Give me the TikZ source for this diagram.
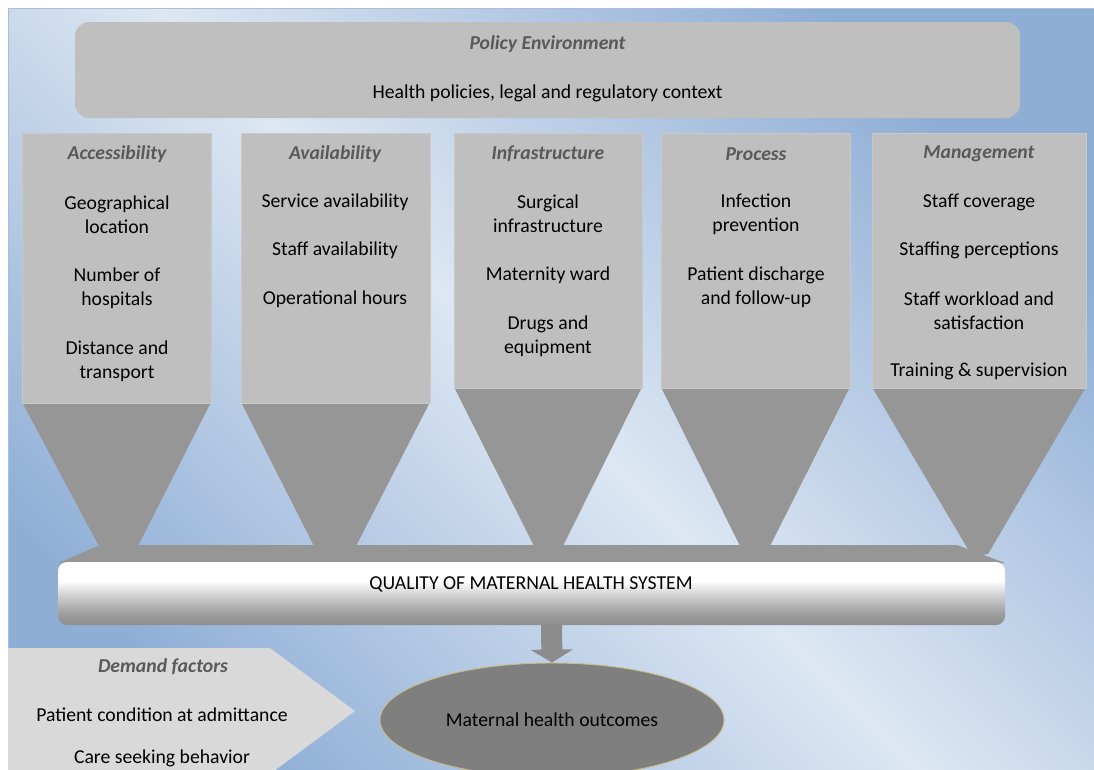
\documentclass[tikz,border=0pt]{standalone}
\usepackage{fontspec}
\setmainfont{Carlito}
\usetikzlibrary{arrows.meta,shapes.geometric}
\definecolor{bgdark}{HTML}{8FAED6}
\definecolor{bglight}{HTML}{DDE7F3}
\definecolor{bgedge}{HTML}{A8BEDB}
\definecolor{boxgray}{HTML}{BFBFBF}
\definecolor{boxedge}{HTML}{C9C9C9}
\definecolor{trigray}{HTML}{969696}
\definecolor{titlegray}{HTML}{595959}
\definecolor{demandgray}{HTML}{D9D9D9}
\definecolor{ellgray}{HTML}{7F7F7F}
\definecolor{elledge}{HTML}{C8BC86}
\definecolor{arrowgray}{HTML}{8C8C8C}
\definecolor{qa}{HTML}{8E8E8E}
\definecolor{qb}{HTML}{9A9A9A}
\definecolor{qc}{HTML}{B2B2B2}
\definecolor{qd}{HTML}{DEDEDE}
\pgfdeclareverticalshading{qualshade}{100bp}{color(0bp)=(qa); color(25bp)=(qa); color(33bp)=(qb); color(40bp)=(qc); color(52bp)=(qd); color(60bp)=(white); color(100bp)=(white)}
\tikzset{
  txt/.style={font=\fontsize{19.7}{24.3}\selectfont, align=center, inner sep=0pt, text=black},
  ttl/.style={font=\fontsize{19.7}{24.3}\selectfont\bfseries\itshape, align=center, inner sep=0pt, text=titlegray},
  colbox/.style={fill=boxgray, draw=boxedge, line width=0.8pt},
  funnel/.style={fill=trigray},
}
\begin{document}
\begin{tikzpicture}[x=1pt,y=-1pt]
\useasboundingbox (0,0) rectangle (1094,769);
\clip (0,0) rectangle (1094,769);
\fill[white] (0,0) rectangle (1094,769);
% background panel
\shade[top color=bgdark, bottom color=bgdark, middle color=bglight, shading angle=-45] (8,8) rectangle (1100,800);
\draw[bgedge, line width=0.8pt] (8,800) -- (8,8) -- (1100,8);

% policy box
\fill[boxgray, rounded corners=14pt] (75,22) rectangle (1020,118);
\node[ttl] (poltitle) at (547.5,44) {Policy Environment};
\node[txt] (poltext) at (547.5,93) {Health policies, legal and regulatory context};

% funnels (drawn first, boxes on top)
\fill[funnel] (22,402) -- (211,402) -- (136,550) -- (101,550) -- cycle;
\fill[funnel] (241,402) -- (430,402) -- (354,550) -- (316,550) -- cycle;
\fill[funnel] (454,387) -- (642,387) -- (561,550) -- (536,550) -- cycle;
\fill[funnel] (661,387) -- (850,387) -- (768,550) -- (742,550) -- cycle;
% connecting bar
\fill[trigray] (58,563) -- (100,545) -- (957,545) -- (1005,563) -- cycle;
\fill[funnel] (872,387) -- (1086,387) -- (988,554) -- (972,556) -- cycle;

% column boxes
\draw[colbox] (22,133) rectangle (211,403);
\draw[colbox] (241,133) rectangle (430,403);
\draw[colbox] (454,133) rectangle (642,388);
\draw[colbox] (661,133) rectangle (850,388);
\draw[colbox] (872,133) rectangle (1086,388);

% column 1
\node[ttl] (acc) at (117,154) {Accessibility};
\node[txt] (acc1) at (117,215) {Geographical\\location};
\node[txt] (acc2) at (117,288) {Number of\\hospitals};
\node[txt] (acc3) at (117,361) {Distance and\\transport};
% column 2
\node[ttl] (ava) at (335,154) {Availability};
\node[txt] (ava1) at (335,202) {Service availability};
\node[txt] (ava2) at (335,250) {Staff availability};
\node[txt] (ava3) at (335,299) {Operational hours};
% column 3
\node[ttl] (inf) at (548,154) {Infrastructure};
\node[txt] (inf1) at (548,214) {Surgical\\infrastructure};
\node[txt] (inf2) at (548,275) {Maternity ward};
\node[txt] (inf3) at (548,336) {Drugs and\\equipment};
% column 4
\node[ttl] (pro) at (756,154) {Process};
\node[txt] (pro1) at (756,214) {Infection\\prevention};
\node[txt] (pro2) at (756,287) {Patient discharge\\and follow-up};
% column 5
\node[ttl] (man) at (979,154) {Management};
\node[txt] (man1) at (979,202) {Staff coverage};
\node[txt] (man2) at (979,250) {Staffing perceptions};
\node[txt] (man3) at (979,311) {Staff workload and\\satisfaction};
\node[txt] (man4) at (979,371) {Training \& supervision};

% quality box
\shade[shading=qualshade, rounded corners=9pt] (58,562) rectangle (1005,625);
\node[txt] (quality) at (531,584) {QUALITY OF MATERNAL HEALTH SYSTEM};
\coordinate (qbottom) at (551.5,625);

% outcomes ellipse
\node[ellipse, fill=ellgray, draw=elledge, line width=0.9pt, minimum width=344pt, minimum height=114pt, inner sep=0pt] (outcome) at (552,720) {};
\node[txt] (outtext) at (552,720) {Maternal health outcomes};

% arrow
\draw[arrowgray, line width=21pt, -{Triangle[width=42pt,length=13pt]}] (qbottom) -- (outcome.north);

% demand factors
\fill[demandgray] (8,648) -- (270,648) -- (355,711) -- (270,774) -- (8,774) -- cycle;
\node[ttl] (demand) at (163,667) {Demand factors};
\node[txt] (dem1) at (162,715) {Patient condition at admittance};
\node[txt] (dem2) at (162,758) {Care seeking behavior};
\end{tikzpicture}
\end{document}
